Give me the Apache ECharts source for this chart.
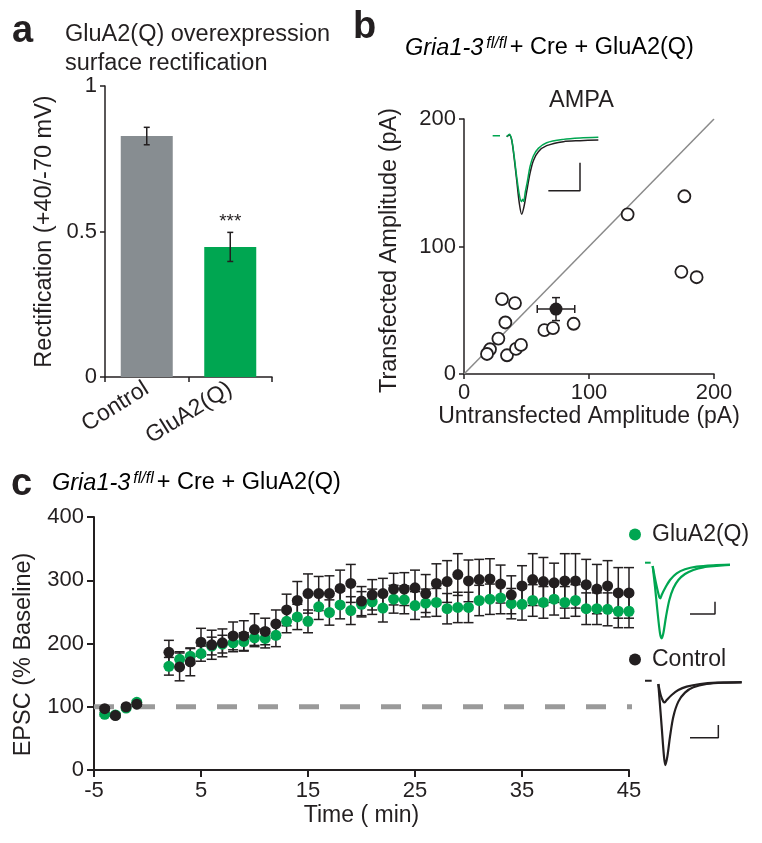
<!DOCTYPE html>
<html>
<head>
<meta charset="utf-8">
<script src="https://cdn.jsdelivr.net/npm/echarts@6/dist/echarts.min.js"></script>
<style>
html,body{margin:0;padding:0;background:#fff;}
#main{width:762px;height:843px;}
</style>
</head>
<body>
<div id="main"></div>
<script>
// ---- panel a : rectification bars
var barCats = ['Control', 'GluA2(Q)'];
var barMeans = [0.828, 0.447];
var barSems = [0.03, 0.05];

// ---- panel b : paired amplitudes (pA)
var untransAmp = [130.9, 176.3, 173.9, 186.1, 30.4, 40.8, 33.1, 27.5, 20.8, 18.4, 34.4, 41.6, 45.6, 64.3, 71.2, 87.7];
var transAmp   = [125.2, 139.4, 80.1, 75.9, 58.8, 55.6, 40.4, 27.8, 19.4, 15.7, 14.7, 19.7, 22.8, 34.4, 36.0, 39.4];
var meanAmp = [73.6, 50.9];
var meanSem = [15, 9];

// ---- panel c : EPSC time course (% baseline)
var times = [-4, -3, -2, -1, 2, 3, 4, 5, 6, 7, 8, 9, 10, 11, 12, 13, 14, 15, 16, 17, 18, 19, 20, 21, 22, 23,
  24, 25, 26, 27, 28, 29, 30, 31, 32, 33, 34, 35, 36, 37, 38, 39, 40, 41, 42, 43, 44, 45];
var ctrlEpsc = [97, 86, 100, 104, 186, 163, 171, 202, 198, 201, 212, 212, 222, 219, 231, 253, 268, 279, 279, 279,
  287, 295, 267, 277, 279, 286, 286, 288, 279, 295, 298, 309, 299, 301, 302, 294, 277, 291, 301, 298, 296, 299,
  299, 293, 286, 291, 280, 280];
var ctrlSem = [3, 3, 3, 3, 19, 22, 22, 22, 23, 22, 22, 24, 25, 21, 22, 25, 30, 31, 27, 28, 29, 30, 23, 24, 24, 25,
  26, 28, 30, 31, 33, 33, 33, 32, 32, 30, 30, 32, 41, 38, 31, 43, 43, 40, 39, 40, 40, 40];
var gluEpsc = [88, 87, 98, 107, 164, 175, 180, 184, 196, 199, 201, 203, 209, 208, 213, 235, 242, 235, 258, 249,
  261, 252, 262, 266, 256, 270, 269, 260, 264, 265, 255, 257, 257, 268, 270, 272, 263, 262, 268, 265, 270, 265,
  268, 255, 255, 254, 251, 251];
var gluSem = [3, 3, 3, 3, 14, 12, 12, 12, 14, 14, 14, 14, 14, 15, 18, 18, 20, 18, 20, 20, 22, 22, 20, 20, 22, 22,
  22, 22, 22, 22, 24, 24, 24, 24, 24, 25, 24, 25, 25, 25, 25, 25, 25, 25, 25, 26, 26, 26];
var baselineLevel = 100;

// ---- example traces [time, current]
var traceB_ctrl = [[0,0],[0.8,1.7],[1.5,-3.3],[2.2,-20],[3,-43.3],[3.8,-66.7],[4.5,-77.7],[5.2,-70],[6,-55],
  [7,-36.7],[8,-24],[9.5,-15],[12,-9],[17,-5],[22,-4],[27.5,-3.3]];
var traceB_glu = [[0,0],[0.8,2.3],[1.5,-2.7],[2.2,-18.3],[3,-40],[3.8,-58.3],[4.4,-65],[4.8,-62.7],[5.1,-64.7],
  [5.6,-55],[6.2,-45],[7,-30],[8,-19.3],[9.5,-11.7],[12,-6],[17,-2.7],[22,-1.3],[27.5,-0.7]];
var traceB_base = [[-4.2,1],[-2,1]];
var traceB_bar = [[12.5,-54],[22,-54],[22,-26]];

var traceC_gluBig = [[0,-1],[0.7,-21.7],[1.4,-45],[2.2,-68.3],[2.7,-73.3],[3.2,-68.3],[4,-51.7],[5,-35],
  [6.2,-23.3],[7.7,-15],[9.7,-9],[12.2,-5],[15.2,-2.3],[19.2,-1],[23.2,0]];
var traceC_gluSmall = [[0,-1],[1,-18.3],[2,-32.3],[2.3,-33.3],[2.7,-30],[3.7,-23.3],[5.2,-15],[7.2,-8.3],
  [9.7,-4.3],[13.2,-1.7],[18.2,-0.3],[23.2,0.3]];
var traceC_gluBase = [[-2.3,2.3],[-0.6,2.3]];
var traceC_gluBar = [[11.2,-49],[18.7,-49],[18.7,-36.7]];

var traceC_ctrlBig = [[0,-1.7],[0.3,-14.3],[1,-44.3],[1.7,-74.3],[2.1,-82.7],[2.7,-74.3],[3.5,-54.3],[4.5,-34.3],
  [6,-19.3],[8,-10.3],[10.5,-5],[14.5,-1.7],[19.5,-0.3],[25,0]];
var traceC_ctrlSmall = [[0,-1.7],[0.7,-12.7],[1.5,-19.3],[1.9,-20],[2.5,-17.7],[4,-12.7],[6,-7.7],[8.5,-4.3],
  [12.5,-1.7],[17.5,-0.3],[25,0.3]];
var traceC_ctrlBase = [[-4,1.7],[-2,1.7]];
var traceC_ctrlBar = [[9.5,-55.3],[18,-55.3],[18,-42.7]];

var FONT = 'Liberation Sans, Arial, Helvetica, sans-serif';
var INK = '#231f20';
var GREEN = '#00a651';
var GREY_BAR = '#878d91';

var myChart = echarts.init(document.getElementById('main'));

// vertical (and optional horizontal) error bars
function errRender(color, cap, horiz){
	return function(params, api){
		var x = api.value(0), y = api.value(1), ey = api.value(2);
		var top = api.coord([x, y + ey]);
		var bot = api.coord([x, y - ey]);
		var st = {stroke: color, lineWidth: 1.5};
		var kids = [
			{type:'line', shape:{x1:top[0], y1:top[1], x2:bot[0], y2:bot[1]}, style:st},
			{type:'line', shape:{x1:top[0]-cap, y1:top[1], x2:top[0]+cap, y2:top[1]}, style:st},
			{type:'line', shape:{x1:bot[0]-cap, y1:bot[1], x2:bot[0]+cap, y2:bot[1]}, style:st}
		];
		if(horiz){
			var ex = api.value(3);
			var l = api.coord([x - ex, y]);
			var r = api.coord([x + ex, y]);
			kids.push({type:'line', shape:{x1:l[0], y1:l[1], x2:r[0], y2:r[1]}, style:st});
			kids.push({type:'line', shape:{x1:l[0], y1:l[1]-cap, x2:l[0], y2:l[1]+cap}, style:st});
			kids.push({type:'line', shape:{x1:r[0], y1:r[1]-cap, x2:r[0], y2:r[1]+cap}, style:st});
		}
		return {type:'group', children:kids};
	};
}

function plainAxis(idx, extra){
	var ax = {
		gridIndex: idx,
		axisLine: {show:true, onZero:false, lineStyle:{color:INK, width:1.5}},
		axisTick: {show:true, length:5, lineStyle:{color:INK, width:1.5}},
		axisLabel: {color:INK, fontFamily:FONT, fontSize:22, margin:8, showMinLabel:true, showMaxLabel:true},
		splitLine: {show:false},
		nameTextStyle: {color:INK, fontFamily:FONT, fontSize:23}
	};
	for(var k in extra){ ax[k] = extra[k]; }
	return ax;
}
function hiddenAxis(idx, min, max){
	return {type:'value', gridIndex:idx, min:min, max:max, show:false, splitLine:{show:false}};
}

var pairData = untransAmp.map(function(v, i){ return [v, transAmp[i]]; });
var ctrlData = times.map(function(t, i){ return [t, ctrlEpsc[i], ctrlSem[i]]; });
var gluData = times.map(function(t, i){ return [t, gluEpsc[i], gluSem[i]]; });

var titleRich = {
	it: {fontFamily:FONT, fontSize:23.5, fontStyle:'italic', color:INK},
	sup: {fontFamily:FONT, fontSize:16, fontStyle:'italic', color:INK, verticalAlign:'top', padding:[0,3,0,3]},
	rm: {fontFamily:FONT, fontSize:23.5, color:INK}
};

option = {
	backgroundColor: '#fff',
	animation: false,
	grid: [
		{left:105, top:86, width:167, height:291},
		{left:464, top:119, width:250, height:255},
		{left:94, top:517, width:535, height:253},
		{left:490, top:131.67, width:110, height:85},
		{left:642.67, top:560, width:93.33, height:83},
		{left:641.67, top:677.33, width:103.33, height:93}
	],
	xAxis: [
		plainAxis(0, {type:'category', data:barCats, boundaryGap:true,
			axisTick:{show:true, alignWithLabel:false, length:5, lineStyle:{color:INK, width:1.5}},
			axisLabel:{color:INK, fontFamily:FONT, fontSize:23, rotate:32, margin:10, interval:0}}),
		plainAxis(1, {type:'value', min:0, max:200, interval:100,
			name:'Untransfected Amplitude (pA)', nameLocation:'middle', nameGap:30}),
		plainAxis(2, {type:'value', min:-5, max:45, interval:10,
			axisLine:{show:true, onZero:false, lineStyle:{color:INK, width:2}},
			axisTick:{show:true, length:7, lineStyle:{color:INK, width:2}},
			axisLabel:{color:INK, fontFamily:FONT, fontSize:22, margin:10, showMinLabel:true, showMaxLabel:true},
			name:'Time ( min)', nameLocation:'middle', nameGap:34}),
		hiddenAxis(3, -5, 28),
		hiddenAxis(4, -3, 25),
		hiddenAxis(5, -5, 26)
	],
	yAxis: [
		plainAxis(0, {type:'value', min:0, max:1, interval:0.5,
			name:'Rectification (+40/-70 mV)', nameLocation:'middle', nameGap:48,
			nameTextStyle:{color:INK, fontFamily:FONT, fontSize:23.5}}),
		plainAxis(1, {type:'value', min:0, max:200, interval:100,
			name:'Transfected Amplitude (pA)', nameLocation:'middle', nameGap:62,
			nameTextStyle:{color:INK, fontFamily:FONT, fontSize:23.5, padding:[0,8,0,0]}}),
		plainAxis(2, {type:'value', min:0, max:400, interval:100,
			axisLine:{show:true, onZero:false, lineStyle:{color:INK, width:2}},
			axisTick:{show:true, length:7, lineStyle:{color:INK, width:2}},
			axisLabel:{color:INK, fontFamily:FONT, fontSize:22, margin:10},
			name:'EPSC (% Baseline)', nameLocation:'middle', nameGap:58,
			nameTextStyle:{color:INK, fontFamily:FONT, fontSize:23.5, padding:[0,22,0,0]}}),
		hiddenAxis(3, -80, 5),
		hiddenAxis(4, -78, 5),
		hiddenAxis(5, -88, 5)
	],
	legend: [
		{data:['GluA2(Q)'], left:629, top:523, padding:0, itemWidth:12, itemHeight:12, icon:'circle',
			textStyle:{color:INK, fontFamily:FONT, fontSize:23, padding:[0,0,0,6]}},
		{data:['Control'], left:629, top:648, padding:0, itemWidth:12, itemHeight:12, icon:'circle',
			textStyle:{color:INK, fontFamily:FONT, fontSize:23, padding:[0,0,0,6]}}
	],
	graphic: [
		{type:'text', left:12, top:13, style:{text:'a', font:'bold 38px ' + FONT, fill:INK}},
		{type:'text', left:353, top:9, style:{text:'b', font:'bold 38px ' + FONT, fill:INK}},
		{type:'text', left:11, top:466, style:{text:'c', font:'bold 38px ' + FONT, fill:INK}},
		{type:'text', left:65, top:20, style:{text:'GluA2(Q) overexpression\nsurface rectification',
			font:'23.5px ' + FONT, fill:INK, lineHeight:29}},
		{type:'text', left:405, top:36, style:{text:'{it|Gria1-3}{sup|fl/fl}{rm|+ Cre + GluA2(Q)}', rich:titleRich}},
		{type:'text', left:52, top:471, style:{text:'{it|Gria1-3}{sup|fl/fl}{rm|+ Cre + GluA2(Q)}', rich:titleRich}},
		{type:'text', left:549, top:89, style:{text:'AMPA', font:'23.5px ' + FONT, fill:INK}}
	],
	series: [
		// a
		{type:'bar', xAxisIndex:0, yAxisIndex:0, barWidth:52, z:2,
			data:[
				{value:barMeans[0], itemStyle:{color:GREY_BAR}},
				{value:barMeans[1], itemStyle:{color:GREEN},
					label:{show:true, position:'top', distance:16, formatter:'***', color:INK, fontFamily:FONT, fontSize:19}}
			]},
		{type:'custom', xAxisIndex:0, yAxisIndex:0, z:5, renderItem:errRender(INK, 3),
			data:barMeans.map(function(v, i){ return [i, v, barSems[i]]; })},
		// b
		{type:'line', xAxisIndex:1, yAxisIndex:1, data:[[0,0],[200,200]], showSymbol:false, symbol:'none',
			lineStyle:{color:'#8a8a8a', width:1.5}, z:1, silent:true},
		{type:'scatter', name:'pairs', xAxisIndex:1, yAxisIndex:1, data:pairData, symbol:'circle', symbolSize:12,
			itemStyle:{color:'#fff', borderColor:INK, borderWidth:1.8, opacity:1}, z:3},
		{type:'custom', xAxisIndex:1, yAxisIndex:1, z:4, renderItem:errRender(INK, 4, true),
			data:[[meanAmp[0], meanAmp[1], meanSem[1], meanSem[0]]]},
		{type:'scatter', name:'mean', xAxisIndex:1, yAxisIndex:1, data:[meanAmp], symbolSize:13,
			itemStyle:{color:INK, opacity:1}, z:5},
		// c
		{type:'line', xAxisIndex:2, yAxisIndex:2, data:[[-5, baselineLevel],[45.4, baselineLevel]], symbol:'none',
			clip:false, lineStyle:{color:'#9a9a9a', width:5, type:[20, 21]}, z:1, silent:true},
		{type:'custom', xAxisIndex:2, yAxisIndex:2, z:2, renderItem:errRender(INK, 5), data:ctrlData},
		{type:'custom', xAxisIndex:2, yAxisIndex:2, z:3, renderItem:errRender(INK, 5), data:gluData},
		{type:'scatter', name:'GluA2(Q)', xAxisIndex:2, yAxisIndex:2, data:gluData, symbolSize:11,
			itemStyle:{color:GREEN, opacity:1}, z:4},
		{type:'scatter', name:'Control', xAxisIndex:2, yAxisIndex:2, data:ctrlData, symbolSize:11,
			itemStyle:{color:INK, opacity:1}, z:5},
		// b inset traces
		{type:'line', xAxisIndex:3, yAxisIndex:3, data:traceB_ctrl, symbol:'none', smooth:0.3,
			lineStyle:{color:INK, width:1.5}},
		{type:'line', xAxisIndex:3, yAxisIndex:3, data:traceB_glu, symbol:'none', smooth:0.3,
			lineStyle:{color:GREEN, width:1.5}},
		{type:'line', xAxisIndex:3, yAxisIndex:3, data:traceB_base, symbol:'none', lineStyle:{color:GREEN, width:1.5}},
		{type:'line', xAxisIndex:3, yAxisIndex:3, data:traceB_bar, symbol:'none', lineStyle:{color:INK, width:1.5}},
		// c inset traces (GluA2(Q))
		{type:'line', xAxisIndex:4, yAxisIndex:4, data:traceC_gluBig, symbol:'none', smooth:0.3,
			lineStyle:{color:GREEN, width:2.2}},
		{type:'line', xAxisIndex:4, yAxisIndex:4, data:traceC_gluSmall, symbol:'none', smooth:0.3,
			lineStyle:{color:GREEN, width:2.2}},
		{type:'line', xAxisIndex:4, yAxisIndex:4, data:traceC_gluBase, symbol:'none', lineStyle:{color:GREEN, width:2}},
		{type:'line', xAxisIndex:4, yAxisIndex:4, data:traceC_gluBar, symbol:'none', lineStyle:{color:INK, width:1.5}},
		// c inset traces (Control)
		{type:'line', xAxisIndex:5, yAxisIndex:5, data:traceC_ctrlBig, symbol:'none', smooth:0.3,
			lineStyle:{color:INK, width:2.2}},
		{type:'line', xAxisIndex:5, yAxisIndex:5, data:traceC_ctrlSmall, symbol:'none', smooth:0.3,
			lineStyle:{color:INK, width:2.2}},
		{type:'line', xAxisIndex:5, yAxisIndex:5, data:traceC_ctrlBase, symbol:'none', lineStyle:{color:INK, width:2}},
		{type:'line', xAxisIndex:5, yAxisIndex:5, data:traceC_ctrlBar, symbol:'none', lineStyle:{color:INK, width:1.5}}
	]
};

myChart.setOption(option);
window.addEventListener('resize', function(){ myChart.resize(); });
</script>
</body>
</html>
